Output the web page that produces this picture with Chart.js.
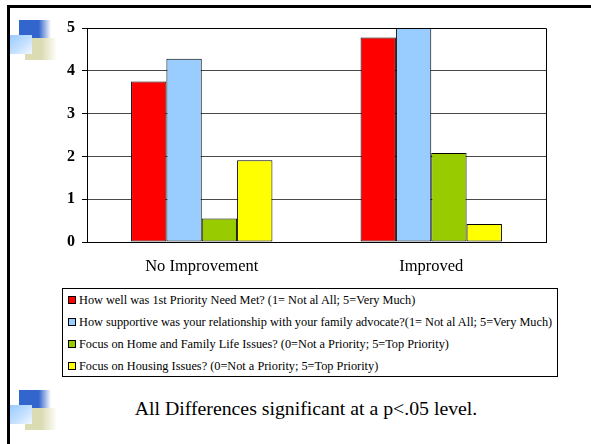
<!DOCTYPE html>
<html>
<head>
<meta charset="utf-8">
<script src="https://cdn.jsdelivr.net/npm/chart.js@4/dist/chart.umd.min.js"></script>
<style>
  html, body { margin: 0; padding: 0; background: #fff; }
  body { width: 591px; height: 444px; position: relative; overflow: hidden; font-family: "Liberation Serif", "Times New Roman", serif; }
  .frame-top { position: absolute; left: 7px; top: 5px; width: 584px; height: 3px; background: #000; }
  .frame-left { position: absolute; left: 7px; top: 5px; width: 3px; height: 439px; background: #000; }
  .icon { position: absolute; width: 48px; height: 42px; }
  .icon .b1 { position: absolute; left: 9px; top: 0; width: 32px; height: 18px;
    background: linear-gradient(to right, #3366cc 0%, #3366cc 62%, rgba(51,102,204,0) 100%); }
  .icon .b2 { position: absolute; left: 15px; top: 18px; width: 32px; height: 22px;
    background: linear-gradient(to right, #dcdcb4 0%, #dcdcb4 52%, rgba(220,220,180,0) 100%); }
  .icon .b3 { position: absolute; left: 0; top: 15px; width: 22px; height: 19px;
    background: linear-gradient(to bottom right, #99ccff 0%, #c4e0ff 55%, #f2f8ff 100%); }
  #chartWrap { position: absolute; left: 0; top: 0; width: 591px; height: 290px; }
  #legend { position: absolute; left: 62px; top: 288px; width: 494px; height: 87px; border: 1px solid #000; background: #fff; }
  #legend .row { position: absolute; left: 5px; height: 22px; line-height: 22px; font-size: 12.3px; color: #000; white-space: nowrap; }
  #legend .sw { display: inline-block; width: 6px; height: 6px; border: 1px solid #000; margin-right: 3px; vertical-align: 0px; }
  #note { position: absolute; left: 0; width: 612px; top: 397px; text-align: center; font-size: 19.8px; color: #000; }
</style>
</head>
<body>
<div class="frame-top"></div>
<div class="frame-left"></div>
<div class="icon" style="left:10px; top:20px;"><div class="b1"></div><div class="b2"></div><div class="b3"></div></div>
<div class="icon" style="left:10px; top:390px;"><div class="b1"></div><div class="b2"></div><div class="b3"></div></div>
<div id="chartWrap"><canvas id="chart" width="591" height="290"></canvas></div>
<div id="legend"></div>
<div id="note">All Differences significant at a p&lt;.05 level.</div>
<script>
// Groups along the x axis
const categories = ["No Improvement", "Improved"];

// Series names and mean scores per group
const seriesNames = [
  "How well was 1st Priority Need Met? (1= Not al All; 5=Very Much)",
  "How supportive was your relationship with your family advocate?(1= Not al All; 5=Very Much)",
  "Focus on Home and Family Life Issues? (0=Not a Priority; 5=Top Priority)",
  "Focus on Housing Issues? (0=Not a Priority; 5=Top Priority)"
];
const priorityNeedMet = [3.75, 4.78];
const advocateSupport = [4.28, 5.0];
const homeFamilyFocus = [0.55, 2.08];
const housingFocus = [1.91, 0.42];

// Y axis ticks
const yTicks = [0, 1, 2, 3, 4, 5];

const seriesValues = [priorityNeedMet, advocateSupport, homeFamilyFocus, housingFocus];
const seriesColors = ["#ff0000", "#99ccff", "#99cc00", "#ffff00"];

// Black top and right edges of the plot area
const plotFrame = {
  id: "plotFrame",
  afterDatasetsDraw(chart) {
    const a = chart.chartArea, ctx = chart.ctx;
    ctx.save();
    ctx.strokeStyle = "#000";
    ctx.lineWidth = 1;
    ctx.beginPath();
    ctx.moveTo(a.left, Math.round(a.top) + 0.5);
    ctx.lineTo(Math.round(a.right) + 0.5, Math.round(a.top) + 0.5);
    ctx.lineTo(Math.round(a.right) + 0.5, Math.round(a.bottom) + 0.5);
    ctx.stroke();
    ctx.restore();
  }
};

const chart = new Chart(document.getElementById("chart"), {
  type: "bar",
  data: {
    labels: categories,
    datasets: seriesNames.map((name, i) => ({
      label: name,
      data: seriesValues[i],
      backgroundColor: seriesColors[i],
      borderColor: "#000",
      borderWidth: 1,
      borderSkipped: false,
      categoryPercentage: 0.616,
      barPercentage: 1.0
    }))
  },
  options: {
    responsive: false,
    animation: false,
    devicePixelRatio: 1,
    layout: { padding: { top: 28, right: 45, left: 0, bottom: 0 } },
    plugins: { legend: { display: false }, tooltip: { enabled: false } },
    scales: {
      x: {
        grid: { display: false, drawTicks: false },
        border: { display: true, color: "#000", width: 1 },
        ticks: {
          color: "#000",
          padding: 15,
          font: { family: "Liberation Serif", size: 16.5 }
        },
        afterFit(scale) { scale.height = 48; }
      },
      y: {
        min: yTicks[0],
        max: yTicks[yTicks.length - 1],
        afterBuildTicks(scale) { scale.ticks = yTicks.map(v => ({ value: v })); },
        grid: {
          color: ctx => (ctx.tick && (ctx.tick.value === 0 || ctx.tick.value === 5)) ? "#000" : "#4a4a4a",
          tickColor: "#000",
          tickLength: 5,
          lineWidth: 1
        },
        border: { display: true, color: "#000", width: 1 },
        ticks: {
          color: "#000",
          padding: 7,
          font: { family: "Liberation Serif", size: 16, weight: "bold" }
        },
        afterFit(scale) { scale.width = 87; }
      }
    }
  },
  plugins: [plotFrame]
});

// Legend built from the chart's datasets
const legend = document.getElementById("legend");
chart.data.datasets.forEach((ds, i) => {
  const row = document.createElement("div");
  row.className = "row";
  row.style.top = (i * 22) + "px";
  const sw = document.createElement("span");
  sw.className = "sw";
  sw.style.background = ds.backgroundColor;
  row.appendChild(sw);
  row.appendChild(document.createTextNode(ds.label));
  legend.appendChild(row);
});
</script>
</body>
</html>
